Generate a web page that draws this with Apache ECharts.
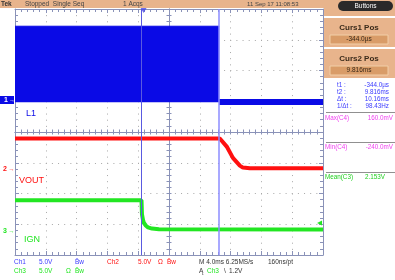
<!DOCTYPE html>
<html><head><meta charset="utf-8">
<script src="https://cdn.jsdelivr.net/npm/echarts@6/dist/echarts.min.js"></script>
<style>html,body{margin:0;padding:0;background:#fff}#c{width:395px;height:280px}</style>
</head><body><div id="c"></div>
<script>
// ---- data (time in ms, volts) ----
const xRange = [-16.7, 23.3];
const ch1Range = [-25, 15];
const ch2Range = [-14, 26];
const ch3Range = [-4, 36];
const ch1OnT = [-16.7, 9.816];
const ch1OnV = [12.2, 12.2];
const ch1OnBase = -0.15;
const ch1OffT = [9.816, 23.3];
const ch1OffV = [-0.12, -0.12];
const ch2T = [-16.7, 9.9, 10.8, 11.6, 12.5, 12.9, 13.8, 23.3];
const ch2V = [4.94, 4.94, 3.63, 1.79, 0.54, 0.21, 0.11, 0.1];
const ch3T = [-16.7, -0.27, -0.21, -0.08, 0.05, 0.31, 0.57, 1.09, 2.0, 23.3];
const ch3V = [4.9, 4.9, 2.6, 1.7, 1.2, 0.75, 0.5, 0.3, 0.18, 0.15];
const cursorT = [-0.344, 9.816];
const trigLevel = 1.2;
const trigPos = 0;
const headerTexts = ['Tek', 'Stopped  Single Seq', '1 Acqs', '11 Sep 17 11:08:53'];
const cursorBoxes = [['Curs1 Pos', '-344.0µs'], ['Curs2 Pos', '9.816ms']];
const cursorRead = [['t1 :', '-344.0µs'], ['t2 :', '9.816ms'], ['Δt :', '10.16ms'], ['1/Δt :', '98.43Hz']];
const measures = [['Max(C4)', '160.0mV', '#f040f0'], ['Min(C4)', '-240.0mV', '#f040f0'], ['Mean(C3)', '2.153V', '#20d020']];

const BLUE = '#0a0ae6', RED = '#ff1010', GREEN = '#22e622';
const AX = '#8a92b8';
const zip = (a, b) => a.map((v, i) => [v, b[i]]);

function gratX(pos, opts) {
  return Object.assign({
    type: 'value', min: -5, max: 5, interval: 1, position: pos,
    axisLabel: { show: false },
    axisLine: { show: true, onZero: false, lineStyle: { color: AX, width: 1 } },
    axisTick: { show: true, inside: true, length: 4, lineStyle: { color: AX } },
    minorTick: { show: true, splitNumber: 5, length: 3, lineStyle: { color: AX } },
    splitLine: { show: false }
  }, opts || {});
}
function gratY(pos, opts) {
  return Object.assign({
    type: 'value', min: -4, max: 4, interval: 1, position: pos,
    axisLabel: { show: false },
    axisLine: { show: true, onZero: false, lineStyle: { color: AX, width: 1 } },
    axisTick: { show: true, inside: true, length: 4, lineStyle: { color: AX } },
    minorTick: { show: true, splitNumber: 5, length: 3, lineStyle: { color: AX } },
    splitLine: { show: false }
  }, opts || {});
}
const dotted = { show: true, lineStyle: { color: '#a8a8a8', width: 1, type: [1, 5.15] } };
const centerLine = (onZeroIdx) => ({ show: true, onZero: true, onZeroAxisIndex: onZeroIdx, lineStyle: { color: AX, width: 1 } });
const cTick = (inside) => ({ show: true, inside: inside, length: 2.5, lineStyle: { color: AX } });
const cMinor = { show: true, splitNumber: 5, length: 2.5, lineStyle: { color: AX } };

const xAxis = [
  gratX('bottom', { splitLine: dotted }),
  gratX('top'),
  gratX('bottom', { axisLine: centerLine(0), axisTick: cTick(true), minorTick: cMinor }),
  gratX('bottom', { axisLine: centerLine(0), axisTick: cTick(false), minorTick: cMinor }),
  { type: 'value', min: xRange[0], max: xRange[1], show: false }
];
const yAxis = [
  gratY('left', { splitLine: dotted }),
  gratY('right'),
  gratY('left', { axisLine: centerLine(0), axisTick: cTick(true), minorTick: cMinor }),
  gratY('left', { axisLine: centerLine(0), axisTick: cTick(false), minorTick: cMinor }),
  { type: 'value', min: ch1Range[0], max: ch1Range[1], show: false },
  { type: 'value', min: ch2Range[0], max: ch2Range[1], show: false },
  { type: 'value', min: ch3Range[0], max: ch3Range[1], show: false }
];

const F = '"Liberation Sans", Arial, sans-serif';
const g = [];
function txt(x, y, s, color, size, extra) {
  g.push({ type: 'text', x: x, y: y, z: 100, style: Object.assign({ text: s, fill: color, font: (size || 7) + 'px ' + F, textVerticalAlign: 'middle' }, extra || {}) });
}
function rect(x, y, w, h, fill, extra) {
  g.push(Object.assign({ type: 'rect', z: 90, shape: { x: x, y: y, width: w, height: h }, style: { fill: fill } }, extra || {}));
}
// header
rect(0, 0, 395, 8, '#e8b48c');
txt(1, 4, headerTexts[0], '#333', 6.5, { font: 'bold 6.5px ' + F });
txt(25, 4, headerTexts[1], '#444', 6.5);
txt(123, 4, headerTexts[2], '#444', 6.5);
txt(247, 4, headerTexts[3], '#444', 6);
// right panel
rect(324, 8, 71, 70, '#e8b48c');
g.push({ type: 'rect', z: 95, shape: { x: 338, y: 1, width: 55, height: 10, r: 5 }, style: { fill: '#2a2a2a' } });
txt(365.5, 6, 'Buttons', '#fff', 6.5, { textAlign: 'center' });
rect(324, 16, 71, 2, '#ffffff');
rect(324, 47, 71, 2, '#ffffff');
cursorBoxes.forEach((b, i) => {
  const y0 = 18 + i * 31;
  txt(359, y0 + 10, b[0], '#3a2a1a', 8, { textAlign: 'center', font: 'bold 8px ' + F });
  rect(330, y0 + 17, 58, 9, '#d99c68', { style: { fill: '#d99c68', stroke: '#f2cfa8', lineWidth: 1 } });
  txt(359, y0 + 21.5, b[1], '#3a2a1a', 6.5, { textAlign: 'center' });
});
cursorRead.forEach((r, i) => {
  const y = 85 + i * 7;
  txt(337, y, r[0], '#3a3aff', 6.3);
  txt(389, y, r[1], '#3a3aff', 6.3, { textAlign: 'right' });
});
[112, 142, 172].forEach(y => rect(326, y, 69, 1, '#909090'));
measures.forEach((m, i) => {
  const y = 118 + i * 29.5;
  txt(325, y, m[0], m[2], 6.3);
  if (i < 2) txt(393, y, m[1], m[2], 6.3, { textAlign: 'right' });
  else txt(365, y, m[1], m[2], 6.3);
});
// channel labels in plot
txt(26, 114, 'L1', BLUE, 9);
txt(19, 180.5, 'VOUT', RED, 9);
txt(24, 240, 'IGN', GREEN, 9);
// ground markers
rect(0, 96, 14, 8, BLUE, { z: 95 });
txt(4, 100, '1', '#fff', 7, { font: 'bold 7px ' + F });
txt(9, 100, '→', '#fff', 6);
txt(3, 169, '2', RED, 7, { font: 'bold 7px ' + F });
txt(8.5, 169, '→', RED, 6);
txt(3, 231, '3', GREEN, 7, { font: 'bold 7px ' + F });
txt(8.5, 231, '→', GREEN, 6);
// bottom status
const r1 = 262, r2 = 271, bs = 6.5;
txt(14, r1, 'Ch1', '#3a3aff', bs); txt(39, r1, '5.0V', '#3a3aff', bs); txt(75, r1, 'B̄w', '#3a3aff', bs);
txt(107, r1, 'Ch2', RED, bs); txt(138, r1, '5.0V', RED, bs); txt(158, r1, 'Ω', RED, bs); txt(167, r1, 'B̄w', RED, bs);
txt(14, r2, 'Ch3', GREEN, bs); txt(39, r2, '5.0V', GREEN, bs); txt(66, r2, 'Ω', GREEN, bs); txt(75, r2, 'B̄w', GREEN, bs);
txt(199, r1, 'M 4.0ms 6.25MS/s', '#333', bs); txt(268, r1, '160ns/pt', '#333', bs);
txt(199, r2, 'Ą', '#333', bs); txt(207, r2, 'Ch3', GREEN, bs); txt(224, r2, '\\', '#333', bs); txt(229, r2, '1.2V', '#333', bs);

const option = {
  animation: false,
  backgroundColor: '#ffffff',
  grid: { left: 15, right: 72, top: 9, bottom: 25, containLabel: false },
  xAxis: xAxis,
  yAxis: yAxis,
  graphic: g,
  series: [
    { type: 'line', name: 'L1', xAxisIndex: 4, yAxisIndex: 4, data: zip(ch1OnT, ch1OnV), symbol: 'none',
      lineStyle: { color: BLUE, width: 1 }, areaStyle: { color: BLUE, opacity: 1, origin: ch1OnBase }, z: 3 },
    { type: 'line', name: 'L1 off', xAxisIndex: 4, yAxisIndex: 4, data: zip(ch1OffT, ch1OffV), symbol: 'none',
      lineStyle: { color: BLUE, width: 6, cap: 'butt' }, z: 3 },
    { type: 'line', name: 'VOUT', xAxisIndex: 4, yAxisIndex: 5, data: zip(ch2T, ch2V), symbol: 'none',
      lineStyle: { color: RED, width: 4 }, z: 3 },
    { type: 'line', name: 'IGN', xAxisIndex: 4, yAxisIndex: 6, data: zip(ch3T, ch3V), symbol: 'none',
      lineStyle: { color: GREEN, width: 4 }, z: 3,
      markPoint: { symbol: 'triangle', symbolSize: [5, 5], symbolRotate: 90, silent: true,
        itemStyle: { color: GREEN }, label: { show: false },
        data: [{ coord: [xRange[1] - 0.45, trigLevel] }] } },
    { type: 'line', name: 'cursors', xAxisIndex: 4, yAxisIndex: 4, data: [], z: 5,
      markLine: { symbol: 'none', silent: true, label: { show: false },
        data: [{ xAxis: cursorT[0], lineStyle: { color: '#5a5ae0', width: 1, type: 'solid' } },
               { xAxis: cursorT[1], lineStyle: { color: '#8c8cff', width: 1.5, type: 'solid' } }] } },
    { type: 'scatter', name: 'trig', xAxisIndex: 4, yAxisIndex: 4, data: [[trigPos, ch1Range[1] - 0.25]],
      symbol: 'triangle', symbolRotate: 180, symbolSize: [6, 5], itemStyle: { color: '#4a4ae6' }, clip: false, z: 6 }
  ]
};
echarts.init(document.getElementById('c'), null, { renderer: 'canvas' }).setOption(option);
</script></body></html>
